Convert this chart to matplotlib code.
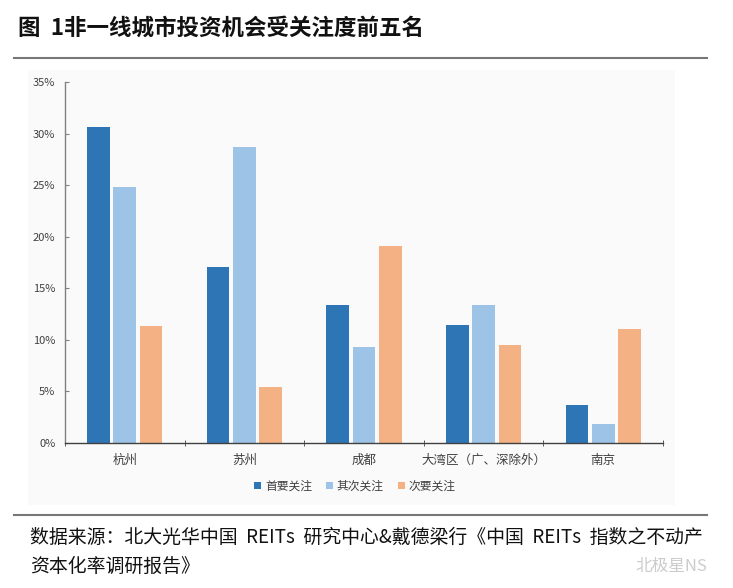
import matplotlib
matplotlib.use("Agg")
import matplotlib.pyplot as plt
import numpy as np
from matplotlib.patches import Rectangle
from matplotlib.lines import Line2D

plt.rcParams['font.family'] = ['Noto Sans CJK SC', 'DejaVu Sans']

categories = ['杭州', '苏州', '成都', '大湾区（广、深除外）', '南京']
series_names = ['首要关注', '其次关注', '次要关注']
first = [30.6, 17.1, 13.4, 11.4, 3.7]
second = [24.8, 28.7, 9.3, 13.4, 1.8]
third = [11.3, 5.4, 19.1, 9.5, 11.1]
colors = ['#2E75B6', '#9DC3E6', '#F4B183']
yticks = [0, 5, 10, 15, 20, 25, 30, 35]

W, H = 733, 588
fig = plt.figure(figsize=(W / 100, H / 100), dpi=100)

# faint chart panel
fig.patches.append(Rectangle((28 / W, 1 - 505 / H), (675 - 28) / W, (505 - 70) / H,
                             transform=fig.transFigure, facecolor='#fafafa',
                             edgecolor='none', zorder=-5))

ax = fig.add_axes([65 / W, 1 - 443 / H, (663 - 65) / W, (443 - 82) / H])
ax.set_zorder(2)
ax.set_facecolor('none')
x = np.arange(len(categories))
bw = 0.19
offs = [-0.22, 0.0, 0.22]
for vals, off, c, name in zip([first, second, third], offs, colors, series_names):
    ax.bar(x + off, vals, width=bw, color=c, label=name, zorder=2)

ax.set_xlim(-0.5, len(categories) - 0.5)
ax.set_ylim(0, 35)
ax.set_yticks(yticks)
ax.set_yticklabels([f'{v}%' for v in yticks], fontsize=8, color='#404040')
ax.set_xticks(x)
ax.set_xticklabels(categories, fontsize=9, color='#404040')
ax.tick_params(axis='x', length=0, pad=8)
ax.set_xticks(np.arange(-0.5, len(categories), 1.0), minor=True)
ax.tick_params(axis='x', which='minor', length=5, direction='inout', color='#404040')
ax.tick_params(axis='y', length=3, direction='in', color='#808080', pad=7)
ax.spines['top'].set_visible(False)
ax.spines['right'].set_visible(False)
ax.spines['left'].set_color('#808080')
ax.spines['bottom'].set_color('#404040')
ax.spines['left'].set_linewidth(1.0)
ax.spines['bottom'].set_linewidth(1.0)

leg = ax.legend(loc='center', bbox_to_anchor=(355 / W, 1 - 486 / H),
                bbox_transform=fig.transFigure, ncol=3, frameon=False,
                fontsize=8.5, handlelength=0.6, handleheight=0.6,
                handletextpad=0.3, columnspacing=1.2)
for t in leg.get_texts():
    t.set_color('#404040')

# title and rules
fig.text(18 / W, 1 - 28 / H, '图  1非一线城市投资机会受关注度前五名', fontsize=16.2,
         fontweight='bold', ha='left', va='center', color='#111111')
fig.add_artist(Line2D([14 / W, 707 / W], [1 - 58 / H, 1 - 58 / H],
                      transform=fig.transFigure, color='#777777', lw=1.5))
fig.add_artist(Line2D([14 / W, 707 / W], [1 - 515 / H, 1 - 515 / H],
                      transform=fig.transFigure, color='#777777', lw=1.5))

fig.text(30 / W, 1 - 537 / H,
         '数据来源：北大光华中国  REITs  研究中心&戴德梁行《中国  REITs  指数之不动产',
         fontsize=13.6, ha='left', va='center', color='#111111')
fig.text(30 / W, 1 - 566 / H, '资本化率调研报告》', fontsize=13.6, ha='left',
         va='center', color='#111111')
fig.text(707 / W, 1 - 566 / H, '北极星NS', fontsize=12, ha='right', va='center',
         color='#cccccc')

fig.savefig('out.png', dpi=100)
